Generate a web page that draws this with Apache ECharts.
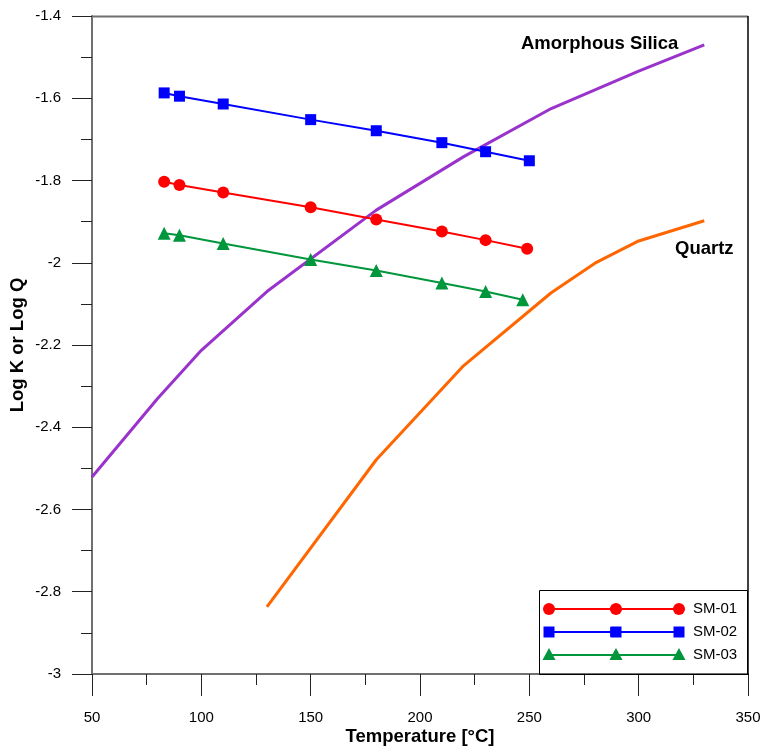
<!DOCTYPE html>
<html>
<head>
<meta charset="utf-8">
<script src="https://cdn.jsdelivr.net/npm/echarts@6/dist/echarts.min.js"></script>
<style>html,body{margin:0;padding:0;background:#fff}#c{width:760px;height:747px}</style>
</head>
<body>
<div id="c"></div>
<script>
// Sample data (temperature °C, log Q)
const sm01 = [[83,-1.803],[90,-1.811],[110,-1.829],[150,-1.865],[180,-1.895],[210,-1.924],[230,-1.945],[249,-1.966]];
const sm02 = [[83,-1.587],[90,-1.595],[110,-1.614],[150,-1.652],[180,-1.679],[210,-1.708],[230,-1.730],[250,-1.752]];
const sm03 = [[83,-1.928],[90,-1.933],[110,-1.953],[150,-1.992],[180,-2.019],[210,-2.049],[230,-2.070],[247,-2.090]];
// Mineral solubility curves (log K)
const amorphousSilica = [[50,-2.521],[80,-2.330],[100,-2.213],[130,-2.070],[180,-1.872],[220,-1.742],[260,-1.625],[300,-1.534],[330,-1.470]];
const quartz = [[130,-2.837],[180,-2.479],[220,-2.250],[260,-2.073],[280,-2.001],[300,-1.947],[330,-1.898]];
const seriesNames = ['SM-01','SM-02','SM-03'];
const xTicks = {min:50, max:350, interval:50};
const yTicks = {min:-3, max:-1.4, interval:0.2};

const FONT = 'Arial, "Liberation Sans", sans-serif';
const chart = echarts.init(document.getElementById('c'));
const mk = (name, data, color, symbol, size) => ({
  name, type:'line', data, color, symbol, symbolSize:size, showSymbol:true,
  lineStyle:{color, width:2}, itemStyle:{color}, z:5, animation:false
});
const legendRows = [
  {color:'#ff0000', symbol:'circle'},
  {color:'#0000ff', symbol:'rect'},
  {color:'#00963c', symbol:'triangle'}
];
const graphics = [
  {type:'rect', shape:{x:539.5,y:590.5,width:208,height:84}, style:{fill:'none',stroke:'#000',lineWidth:1}, z:1},
  {type:'line', shape:{x1:92,y1:16.5,x2:748,y2:16.5}, style:{stroke:'#707070',lineWidth:2}, z:10},
  {type:'line', shape:{x1:748,y1:16,x2:748,y2:675}, style:{stroke:'#000',lineWidth:1.5}, z:10},
  {type:'text', x:521, y:44, style:{text:'Amorphous Silica', font:'bold 18.5px '+FONT, fill:'#000', verticalAlign:'middle'}},
  {type:'text', x:675, y:249, style:{text:'Quartz', font:'bold 18.5px '+FONT, fill:'#000', verticalAlign:'middle'}}
];
legendRows.forEach((r,i)=>{
  const y = 609 + i*23;
  [549,616,679].forEach(x=>{
    let el;
    if (r.symbol==='circle') el = {type:'circle', shape:{cx:x, cy:y, r:6}};
    else if (r.symbol==='rect') el = {type:'rect', shape:{x:x-5.5, y:y-5.5, width:11, height:11}};
    else el = {type:'polygon', shape:{points:[[x,y-7],[x+6.5,y+5],[x-6.5,y+5]]}};
    el.style = {fill:r.color}; el.z = 20;
    graphics.push(el);
  });
});
chart.setOption({
  animation:false,
  textStyle:{fontFamily:FONT},
  grid:{left:92, top:16, width:656, height:658, containLabel:false, outerBoundsMode:'none'},
  legend:{
    data:seriesNames, orient:'vertical', left:549, top:601, padding:0,
    itemWidth:130, itemHeight:12, itemGap:7,
    textStyle:{fontSize:15, color:'#000', fontFamily:FONT, padding:[0,0,0,8], lineHeight:16}
  },
  graphic:graphics,
  xAxis:{
    type:'value', min:xTicks.min, max:xTicks.max, interval:xTicks.interval,
    name:'Temperature [°C]', nameLocation:'middle', nameGap:53, nameMoveOverlap:false,
    nameTextStyle:{fontSize:18.5, fontWeight:'bold', color:'#000', fontFamily:FONT},
    axisLine:{show:true, onZero:false, lineStyle:{color:'#707070', width:2}},
    axisTick:{show:true, inside:false, length:22, lineStyle:{color:'#222', width:1}},
    minorTick:{show:true, splitNumber:2, length:11, lineStyle:{color:'#222', width:1}},
    axisLabel:{fontSize:15, color:'#000', margin:36},
    splitLine:{show:false}
  },
  yAxis:{
    type:'value', min:yTicks.min, max:yTicks.max, interval:yTicks.interval,
    name:'Log K or Log Q', nameLocation:'middle', nameGap:65, nameRotate:90, nameMoveOverlap:false,
    nameTextStyle:{fontSize:18.5, fontWeight:'bold', color:'#000', fontFamily:FONT},
    axisLine:{show:true, onZero:false, lineStyle:{color:'#707070', width:2}},
    axisTick:{show:true, length:20, lineStyle:{color:'#222', width:1}},
    minorTick:{show:true, splitNumber:2, length:11, lineStyle:{color:'#222', width:1}},
    axisLabel:{fontSize:15, color:'#000', margin:31, formatter:v=>String(+v.toFixed(1))},
    splitLine:{show:false}
  },
  series:[
    {name:'Amorphous Silica', type:'line', data:amorphousSilica, showSymbol:false, symbol:'none',
     lineStyle:{color:'#9933cc', width:3}, z:3},
    {name:'Quartz', type:'line', data:quartz, showSymbol:false, symbol:'none',
     lineStyle:{color:'#ff6600', width:3}, z:3},
    mk('SM-01', sm01, '#ff0000', 'circle', 12),
    mk('SM-02', sm02, '#0000ff', 'rect', 11),
    mk('SM-03', sm03, '#00963c', 'triangle', 13)
  ]
});
</script>
</body>
</html>
